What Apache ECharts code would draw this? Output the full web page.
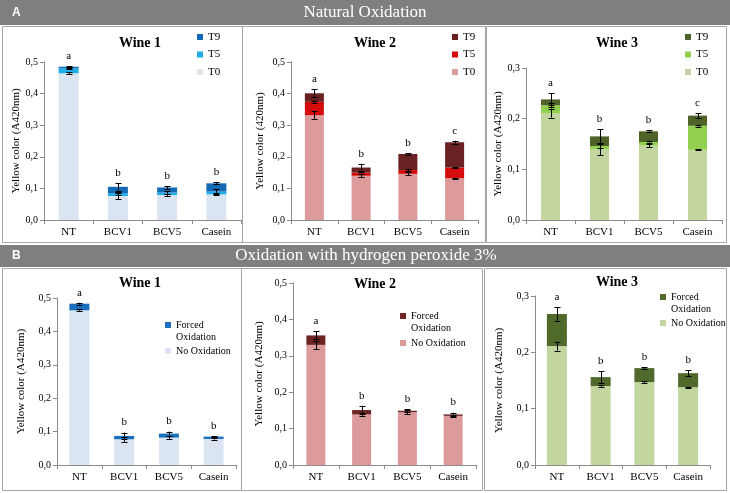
<!DOCTYPE html>
<html><head><meta charset="utf-8">
<script src="https://cdn.jsdelivr.net/npm/echarts@6/dist/echarts.min.js"></script>
<style>html,body{margin:0;padding:0;background:#fff}#c{width:730px;height:493px}</style>
</head><body><div id="c"></div>
<script>
// ---------- DATA ----------
const categories = ['NT', 'BCV1', 'BCV5', 'Casein'];

// Panel A: natural oxidation (segment heights, stacked T0 + T5 + T9)
const w1A_T0 = [0.464, 0.076, 0.079, 0.081];
const w1A_T5 = [0.016, 0.009, 0.008, 0.009];
const w1A_T9 = [0.005, 0.020, 0.016, 0.026];
const w1A_T0err = [0.003, 0.010, 0.004, 0.003];
const w1A_T5err = [0.002, 0.005, 0.004, 0.008];
const w1A_T9err = [0.002, 0.012, 0.004, 0.003];
const w1A_letters = ['a', 'b', 'b', 'b'];

const w2A_T0 = [0.332, 0.140, 0.146, 0.132];
const w2A_T5 = [0.042, 0.010, 0.012, 0.034];
const w2A_T9 = [0.027, 0.016, 0.051, 0.080];
const w2A_T0err = [0.012, 0.004, 0.005, 0.002];
const w2A_T5err = [0.004, 0.003, 0.004, 0.002];
const w2A_T9err = [0.012, 0.012, 0.002, 0.005];
const w2A_letters = ['a', 'b', 'b', 'c'];

const w3A_T0 = [0.211, 0.140, 0.147, 0.1385];
const w3A_T5 = [0.0155, 0.006, 0.007, 0.0475];
const w3A_T9 = [0.0115, 0.019, 0.021, 0.020];
const w3A_T0err = [0.009, 0.012, 0.003, 0.001];
const w3A_T5err = [0.004, 0.004, 0.002, 0.002];
const w3A_T9err = [0.012, 0.014, 0.002, 0.005];
const w3A_letters = ['a', 'b', 'b', 'c'];

// Panel B: oxidation with hydrogen peroxide 3%
const w1B_No = [0.463, 0.077, 0.082, 0.078];
const w1B_Forced = [0.020, 0.010, 0.012, 0.007];
const w1B_NoErr = [0.003, 0.008, 0.004, 0.002];
const w1B_ForcedErr = [0.003, 0.010, 0.006, 0.002];
const w1B_letters = ['a', 'b', 'b', 'b'];

const w2B_No = [0.330, 0.139, 0.145, 0.135];
const w2B_Forced = [0.026, 0.012, 0.004, 0.004];
const w2B_NoErr = [0.012, 0.004, 0.005, 0.003];
const w2B_ForcedErr = [0.011, 0.012, 0.004, 0.005];
const w2B_letters = ['a', 'b', 'b', 'b'];

const w3B_No = [0.211, 0.140, 0.147, 0.138];
const w3B_Forced = [0.057, 0.016, 0.025, 0.025];
const w3B_NoErr = [0.008, 0.002, 0.002, 0.001];
const w3B_ForcedErr = [0.012, 0.011, 0.002, 0.005];
const w3B_letters = ['a', 'b', 'b', 'b'];

const headerA = 'Natural Oxidation';
const headerB = 'Oxidation with hydrogen peroxide 3%';
const yNameA = 'Yellow color (A420nm)';
const yNameA2 = 'Yellow color (420nm)';

// ---------- STYLE / LAYOUT ----------
const SERIF = '"Liberation Serif", "Times New Roman", serif';
const SANS = '"Liberation Sans", Arial, sans-serif';
const C = {
  w1: {T0: '#dbe5f1', T5: '#20aee8', T9: '#1369b4', F: '#1b70bd'},
  w2: {T0: '#dd9a9a', T5: '#d40c0c', T9: '#6a2121', F: '#6d2424'},
  w3: {T0: '#c4d6a0', T5: '#92d050', T9: '#4f6228', F: '#506a2b'}
};

const panels = [
  {id: 'A1', title: 'Wine 1', tx: 140, ty: 43, grid: {left: 44, top: 62, width: 197, height: 158}, max: 0.5, yName: yNameA, nameGap: 21,
   segs: [{n: 'T0', d: w1A_T0, e: w1A_T0err, c: C.w1.T0}, {n: 'T5', d: w1A_T5, e: w1A_T5err, c: C.w1.T5}, {n: 'T9', d: w1A_T9, e: w1A_T9err, c: C.w1.T9}],
   letters: w1A_letters, lg: {left: 197, top: 30, gap: 3.5}, bw: 20},
  {id: 'A2', title: 'Wine 2', tx: 375, ty: 43, grid: {left: 291, top: 62, width: 187, height: 158}, max: 0.5, yName: yNameA2, nameGap: 25,
   segs: [{n: 'T0', d: w2A_T0, e: w2A_T0err, c: C.w2.T0}, {n: 'T5', d: w2A_T5, e: w2A_T5err, c: C.w2.T5}, {n: 'T9', d: w2A_T9, e: w2A_T9err, c: C.w2.T9}],
   letters: w2A_letters, lg: {left: 452, top: 30, gap: 3.5}, bw: 19},
  {id: 'A3', title: 'Wine 3', tx: 617, ty: 43, grid: {left: 526, top: 68, width: 196, height: 152}, max: 0.3, yName: yNameA, nameGap: 21,
   segs: [{n: 'T0', d: w3A_T0, e: w3A_T0err, c: C.w3.T0}, {n: 'T5', d: w3A_T5, e: w3A_T5err, c: C.w3.T5}, {n: 'T9', d: w3A_T9, e: w3A_T9err, c: C.w3.T9}],
   letters: w3A_letters, lg: {left: 685, top: 30, gap: 3.5}, bw: 19},
  {id: 'B1', title: 'Wine 1', tx: 140, ty: 283, grid: {left: 57, top: 298, width: 179, height: 167}, max: 0.5, yName: yNameA, nameGap: 30,
   segs: [{n: 'No Oxidation', d: w1B_No, e: w1B_NoErr, c: C.w1.T0}, {n: 'Forced Oxidation', d: w1B_Forced, e: w1B_ForcedErr, c: C.w1.F}],
   letters: w1B_letters, lg: {left: 165, top: 307, gap: 2}, bw: 20},
  {id: 'B2', title: 'Wine 2', tx: 375, ty: 284, grid: {left: 293, top: 283, width: 183, height: 182}, max: 0.5, yName: yNameA, nameGap: 28,
   segs: [{n: 'No Oxidation', d: w2B_No, e: w2B_NoErr, c: C.w2.T0}, {n: 'Forced Oxidation', d: w2B_Forced, e: w2B_ForcedErr, c: C.w2.F}],
   letters: w2B_letters, lg: {left: 400, top: 298, gap: 3}, bw: 19},
  {id: 'B3', title: 'Wine 3', tx: 617, ty: 282, grid: {left: 535, top: 296, width: 175, height: 169}, max: 0.3, yName: yNameA, nameGap: 30,
   segs: [{n: 'No Oxidation', d: w3B_No, e: w3B_NoErr, c: C.w3.T0}, {n: 'Forced Oxidation', d: w3B_Forced, e: w3B_ForcedErr, c: C.w3.F}],
   letters: w3B_letters, lg: {left: 660, top: 279, gap: 2}, bw: 20}
];

const grid = [], xAxis = [], yAxis = [], series = [], legend = [];
const AXC = '#8c8c8c';

function errRender(params, api) {
  const x = api.value(0), y = api.value(1), e = api.value(2);
  const hi = api.coord([x, y + e]), lo = api.coord([x, y - e]);
  const px = Math.round(hi[0]) + 0.5, cw = 3;
  const st = {stroke: '#000', lineWidth: 1};
  return {type: 'group', children: [
    {type: 'line', shape: {x1: px, y1: hi[1], x2: px, y2: lo[1]}, style: st},
    {type: 'line', shape: {x1: px - cw, y1: Math.round(hi[1]) + 0.5, x2: px + cw, y2: Math.round(hi[1]) + 0.5}, style: st},
    {type: 'line', shape: {x1: px - cw, y1: Math.round(lo[1]) + 0.5, x2: px + cw, y2: Math.round(lo[1]) + 0.5}, style: st}
  ]};
}

panels.forEach((p, i) => {
  grid.push(Object.assign({containLabel: false}, p.grid));
  xAxis.push({type: 'category', gridIndex: i, data: categories,
    axisLine: {lineStyle: {color: AXC}}, axisTick: {show: true, length: 4, lineStyle: {color: AXC}},
    axisLabel: {fontFamily: SERIF, fontSize: 11, color: '#000', margin: 7}});
  yAxis.push({type: 'value', gridIndex: i, min: 0, max: p.max, interval: 0.1,
    name: p.yName, nameLocation: 'middle', nameGap: p.nameGap,
    nameTextStyle: {fontFamily: SERIF, fontSize: 11, color: '#000'},
    axisLine: {show: true, lineStyle: {color: AXC}}, axisTick: {show: true, length: 4, lineStyle: {color: AXC}},
    splitLine: {show: false},
    axisLabel: {fontFamily: SERIF, fontSize: 10, color: '#000', margin: 6, formatter: v => v.toFixed(1).replace('.', ',')}});
  const cum = categories.map(() => 0);
  const errData = [];
  p.segs.forEach(s => {
    series.push({type: 'bar', name: p.id + '|' + s.n, stack: p.id, xAxisIndex: i, yAxisIndex: i,
      data: s.d, barWidth: p.bw, itemStyle: {color: s.c}, silent: true});
    s.d.forEach((v, k) => { cum[k] += v; errData.push([k, cum[k], s.e[k]]); });
  });
  series.push({type: 'custom', xAxisIndex: i, yAxisIndex: i, z: 10, silent: true,
    renderItem: errRender, data: errData, encode: {x: 0, y: 1}});
  const topData = categories.map((c, k) => {
    let m = 0; errData.filter(d => d[0] === k).forEach(d => { m = Math.max(m, d[1] + d[2]); });
    return [k, m];
  });
  series.push({type: 'custom', xAxisIndex: i, yAxisIndex: i, z: 11, silent: true,
    data: topData, encode: {x: 0, y: 1},
    renderItem: (params, api) => {
      const pt = api.coord([api.value(0), api.value(1)]);
      return {type: 'text', x: pt[0], y: pt[1] - 10,
        style: {text: p.letters[params.dataIndex], fontFamily: SERIF, fontSize: 11, fill: '#000', align: 'center', verticalAlign: 'middle'}};
    }});
  const names = p.segs.map(s => p.id + '|' + s.n).reverse();
  const isB = p.id[0] === 'B';
  legend.push({orient: 'vertical', left: p.lg.left, top: p.lg.top, padding: 0, itemGap: p.lg.gap,
    itemWidth: 6, itemHeight: 6, icon: 'rect', selectedMode: false,
    data: names,
    formatter: n => { const t = n.split('|')[1]; return t === 'Forced Oxidation' ? ' \nForced\nOxidation' : t; },
    textStyle: {fontFamily: SERIF, fontSize: isB ? 10 : 11, color: '#000', lineHeight: isB ? 12 : 14}});
});

// ---------- GRAPHIC: headers, frames, titles ----------
const FR = '#a6a6a6';
const graphic = [
  {type: 'rect', shape: {x: 0, y: 0, width: 730, height: 25}, style: {fill: '#7f7f7f'}},
  {type: 'text', x: 12, y: 13, style: {text: 'A', fontFamily: SANS, fontWeight: 'bold', fontSize: 12, fill: '#fff', verticalAlign: 'middle'}},
  {type: 'text', x: 365, y: 13, style: {text: headerA, fontFamily: SERIF, fontSize: 17, fill: '#fff', align: 'center', verticalAlign: 'middle'}},
  {type: 'rect', shape: {x: 0, y: 245, width: 730, height: 22}, style: {fill: '#7f7f7f'}},
  {type: 'text', x: 12, y: 256, style: {text: 'B', fontFamily: SANS, fontWeight: 'bold', fontSize: 12, fill: '#fff', verticalAlign: 'middle'}},
  {type: 'text', x: 366, y: 256, style: {text: headerB, fontFamily: SERIF, fontSize: 17, fill: '#fff', align: 'center', verticalAlign: 'middle'}},
  {type: 'rect', shape: {x: 2.5, y: 26.5, width: 240, height: 216}, style: {fill: 'none', stroke: FR}},
  {type: 'rect', shape: {x: 242.5, y: 26.5, width: 243, height: 216}, style: {fill: 'none', stroke: FR}},
  {type: 'rect', shape: {x: 486.5, y: 26.5, width: 240, height: 216}, style: {fill: 'none', stroke: FR}},
  {type: 'rect', shape: {x: 2.5, y: 268.5, width: 239, height: 222}, style: {fill: 'none', stroke: FR}},
  {type: 'rect', shape: {x: 241.5, y: 268.5, width: 241, height: 222}, style: {fill: 'none', stroke: FR}},
  {type: 'rect', shape: {x: 484.5, y: 268.5, width: 242, height: 222}, style: {fill: 'none', stroke: FR}}
];
panels.forEach(p => {
  graphic.push({type: 'text', x: p.tx, y: p.ty, style: {text: p.title, fontFamily: SERIF, fontWeight: 'bold', fontSize: 14, fill: '#000', align: 'center', verticalAlign: 'middle'}});
});

const chart = echarts.init(document.getElementById('c'), null, {renderer: 'canvas'});
chart.setOption({
  backgroundColor: '#fff',
  animation: false,
  grid, xAxis, yAxis, series, legend, graphic
});
</script>
</body></html>
